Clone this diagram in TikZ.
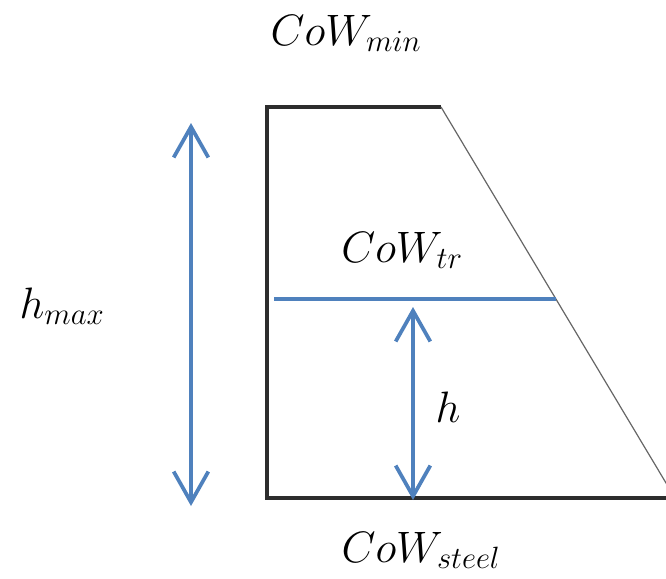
\RequirePackage{fix-cm}
\documentclass[tikz,border=0pt]{standalone}
\usepackage{amsmath}
\usepackage{tikz}
\usetikzlibrary{positioning, calc, arrows.meta}

\definecolor{cowblue}{RGB}{79,129,189}
\definecolor{cowedge}{RGB}{45,45,45}

\tikzset{
    dimarrow/.style={draw=cowblue, line width=2.8pt, {Straight Barb[length=23pt,width=26pt]}-{Straight Barb[length=23pt,width=26pt]}},
    lbl/.style={anchor=base, inner sep=0pt, font=\fontsize{33}{40}\selectfont}
}

\begin{document}
\begin{tikzpicture}[x=0.75pt, y=-0.75pt]
    \useasboundingbox (0,0) rectangle (666,578);

    % Cross section corners
    \coordinate (tl) at (267,107);
    \coordinate (tr) at (441,107);
    \coordinate (br) at (675,498);
    \coordinate (bl) at (267,498);

    % Outline
    \draw[cowedge, line width=2.4pt, line join=miter] (tr) -- (tl) -- (bl) -- (br);
    \draw[gray!80!black, line width=0.9pt] (tr) -- (br);

    % Transition level
    \coordinate (trL) at (274,299);
    \coordinate (trR) at (556,299);
    \draw[cowblue, line width=3pt] (trL) -- (trR);

    % Total height
    \coordinate (hmaxTop) at (191,123);
    \coordinate (hmaxBot) at (191,506);
    \draw[dimarrow] (hmaxTop) -- (hmaxBot);

    % Height above steel
    \coordinate (hTop) at (413,307);
    \coordinate (hBot) at (413,500);
    \draw[dimarrow] (hTop) -- (hBot);

    % Labels
    \node[lbl] (cowmin) at (346,45) {$CoW_{min}$};
    \node[lbl] (cowtr) at (402,262) {$CoW_{tr}$};
    \node[lbl] (cowsteel) at (421,562) {$CoW_{steel}$};
    \node[lbl] (hmax) at (62,318) {$h_{max}$};
    \node[lbl] (hlbl) at (448,422) {$h$};
\end{tikzpicture}
\end{document}
